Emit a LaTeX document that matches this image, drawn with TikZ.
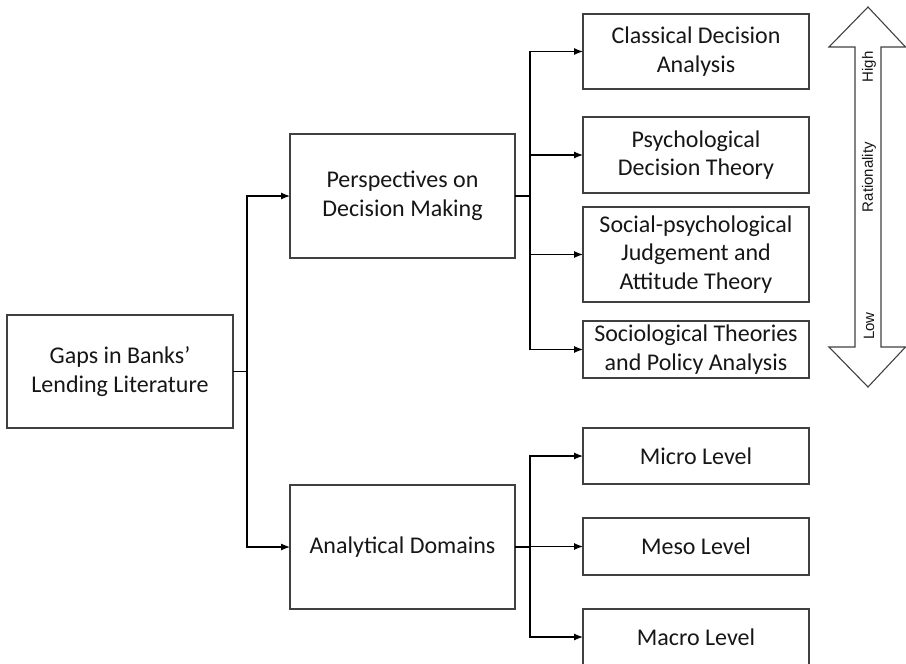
\documentclass[tikz,border=0pt]{standalone}
\usepackage{fontspec}
\setmainfont{Carlito}
\newfontfamily\labfont{Liberation Sans}
\usetikzlibrary{arrows.meta}
\definecolor{boxline}{HTML}{404040}
\definecolor{txt}{HTML}{161616}
\begin{document}
\begin{tikzpicture}[x=1pt,y=-1pt,
  box/.style={draw=boxline,line width=1.1pt,rectangle,inner sep=0pt,outer sep=0pt,
    align=center,text=txt,font=\fontsize{24}{28.8}\selectfont},
  conn/.style={line width=1.2pt,black,-{Latex[length=9pt,width=7pt]}},
  lnk/.style={line width=1.2pt,black},
  rlab/.style={rotate=90,text=txt,font=\labfont\fontsize{15}{18}\selectfont,inner sep=0pt}]
\useasboundingbox (0,0) rectangle (906,664);
% level 0
\node[box,minimum width=226pt,minimum height=113pt] (gaps) at (120,371.5) {Gaps in Banks’\\Lending Literature};
% level 1
\node[box,minimum width=225pt,minimum height=124pt] (persp) at (402.5,196) {Perspectives on\\Decision Making};
\node[box,minimum width=225pt,minimum height=124pt] (anal) at (402.5,547) {Analytical Domains};
% level 2
\node[box,minimum width=226pt,minimum height=75pt] (class) at (696,51.5) {Classical Decision\\Analysis};
\node[box,minimum width=226pt,minimum height=76pt] (psych) at (696,155) {Psychological\\Decision Theory};
\node[box,minimum width=226pt,minimum height=95pt] (social) at (696,254.5) {Social-psychological\\Judgement and\\Attitude Theory};
\node[box,minimum width=226pt,minimum height=57pt] (socio) at (696,349.5) {Sociological Theories\\and Policy Analysis};
\node[box,minimum width=226pt,minimum height=56pt] (micro) at (696,456) {Micro Level};
\node[box,minimum width=226pt,minimum height=57pt] (meso) at (696,546.5) {Meso Level};
\node[box,minimum width=226pt,minimum height=56pt] (macro) at (696,637) {Macro Level};
% connectors level 0 -> 1
\coordinate (j0) at (247,371.5);
\draw[lnk] (gaps.east) -- (j0);
\draw[conn] (j0) |- (persp.west);
\draw[conn] (j0) |- (anal.west);
% connectors persp -> level 2
\coordinate (j1) at (530,196);
\draw[lnk] (persp.east) -- (j1);
\draw[conn] (j1) |- (class.west);
\draw[conn] (j1) |- (psych.west);
\draw[conn] (j1) |- (social.west);
\draw[conn] (j1) |- (socio.west);
% connectors anal -> level 2
\coordinate (j2) at (530,547);
\draw[lnk] (anal.east) -- (j2);
\draw[conn] (j2) |- (micro.west);
\draw[conn] (j2) |- (meso.west);
\draw[conn] (j2) |- (macro.west);
% double arrow
\draw[boxline,line width=1.1pt,line join=miter]
  (868,7) -- (905.5,47) -- (881,47) -- (881,347) -- (905.5,347) -- (868,387)
  -- (829,347) -- (855,347) -- (855,47) -- (829,47) -- cycle;
\node[rlab] (high) at (869,67) {High};
\node[rlab] (rat) at (869,177) {Rationality};
\node[rlab] (low) at (869,326) {Low};
\end{tikzpicture}
\end{document}
